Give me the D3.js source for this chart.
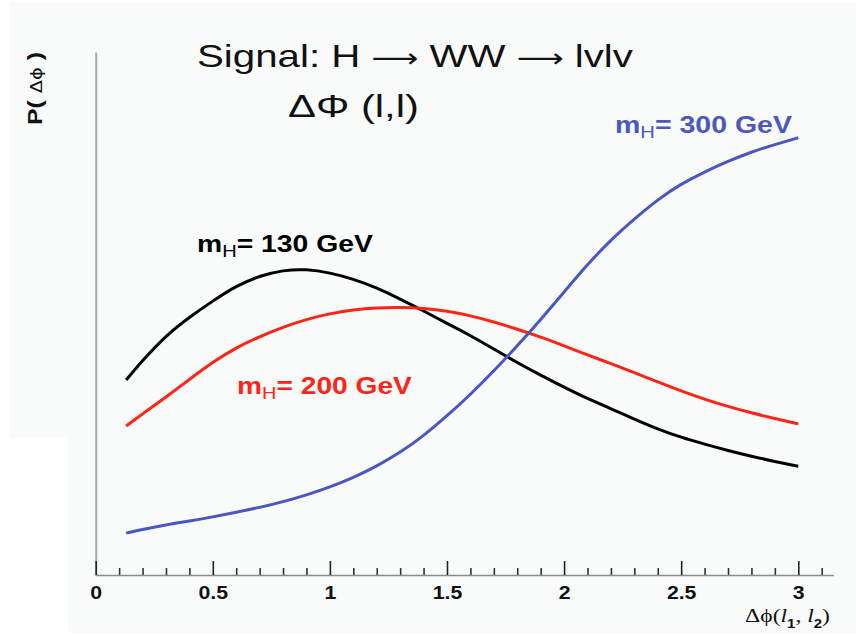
<!DOCTYPE html>
<html>
<head>
<meta charset="utf-8">
<script src="https://cdn.jsdelivr.net/npm/d3@7"></script>
<style>
  html, body { margin: 0; padding: 0; background: #ffffff; }
  svg { display: block; }
</style>
</head>
<body>
<svg id="chart" width="856" height="635"></svg>
<script>
// Δφ between the two leptons (radians)
const dphi = [0.13, 0.2, 0.3, 0.4, 0.5, 0.6, 0.7, 0.8, 0.9, 1.0,
              1.1, 1.2, 1.3, 1.4, 1.5, 1.6, 1.7, 1.8, 1.9, 2.0,
              2.1, 2.2, 2.3, 2.4, 2.5, 2.6, 2.7, 2.8, 2.9, 3.0];

// P(Δφ), arbitrary normalisation, for three Higgs masses
const mh130 = [0.373, 0.410, 0.458, 0.493, 0.524, 0.553, 0.572, 0.583, 0.585, 0.578,
               0.566, 0.549, 0.528, 0.505, 0.481, 0.458, 0.432, 0.406, 0.382, 0.359,
               0.337, 0.318, 0.298, 0.279, 0.263, 0.250, 0.238, 0.227, 0.217, 0.208];
const mh200 = [0.285, 0.308, 0.340, 0.374, 0.407, 0.435, 0.456, 0.474, 0.489, 0.500,
               0.507, 0.511, 0.512, 0.510, 0.505, 0.496, 0.484, 0.470, 0.455, 0.438,
               0.421, 0.404, 0.387, 0.369, 0.352, 0.336, 0.322, 0.310, 0.299, 0.289];
const mh300 = [0.080, 0.087, 0.096, 0.103, 0.111, 0.120, 0.129, 0.140, 0.153, 0.168,
               0.186, 0.208, 0.234, 0.266, 0.304, 0.345, 0.390, 0.438, 0.488, 0.541,
               0.594, 0.641, 0.681, 0.718, 0.748, 0.771, 0.791, 0.809, 0.823, 0.836];

const majorTicks = [0, 0.5, 1, 1.5, 2, 2.5, 3];
const tickLabels = ["0", "0.5", "1", "1.5", "2", "2.5", "3"];
const minorTicks = [0.1, 0.2, 0.3, 0.4, 0.6, 0.7, 0.8, 0.9, 1.1, 1.2, 1.3, 1.4,
                    1.6, 1.7, 1.8, 1.9, 2.1, 2.2, 2.3, 2.4, 2.6, 2.7, 2.8, 2.9, 3.1];

const seriesNames = ["130", "200", "300"];
const seriesColors = ["#000000", "#ff2414", "#4a56c2"];
const labelColors = ["#000000", "#ff2414", "#4c58bd"];

const svg = d3.select("#chart");

// paper background
svg.append("path")
  .attr("d", "M9,3 H856 V633 H68 V437 H9 Z")
  .attr("fill", "#f9fbfb");

const x = d3.scaleLinear().domain([0, 3.15]).range([95.7, 833.4]);
const y = d3.scaleLinear().domain([0, 1]).range([575, 52]);

// y axis: plain line
svg.append("g")
  .attr("transform", `translate(${x(0)},0)`)
  .call(d3.axisLeft(y).tickValues([]).tickSizeOuter(0))
  .call(g => g.select(".domain").attr("stroke", "#a8a8a8").attr("stroke-width", 2));

// x axis: minor ticks
svg.append("g")
  .attr("transform", `translate(0,${y(0)})`)
  .call(d3.axisBottom(x).tickValues(minorTicks).tickSizeInner(-7).tickSizeOuter(0).tickFormat(""))
  .call(g => g.select(".domain").remove())
  .call(g => g.selectAll(".tick line").attr("stroke", "#333").attr("stroke-width", 1.6));

// x axis: major ticks with labels
svg.append("g")
  .attr("transform", `translate(0,${y(0)})`)
  .call(d3.axisBottom(x).tickValues(majorTicks).tickSizeInner(-14).tickSizeOuter(0)
        .tickPadding(11).tickFormat((d, i) => tickLabels[i]))
  .call(g => g.select(".domain").attr("stroke", "#8a8a8a").attr("stroke-width", 1.6))
  .call(g => g.selectAll(".tick line").attr("stroke", "#222").attr("stroke-width", 1.6))
  .call(g => g.selectAll(".tick text")
        .attr("fill", "#111")
        .attr("font-family", "'Liberation Sans', Arial, sans-serif")
        .attr("font-weight", "bold")
        .attr("font-size", 19)
        .attr("transform", "scale(1.12,1)"));

// curves
const series = [mh130, mh200, mh300];
const line = d3.line()
  .x((d, i) => x(dphi[i]))
  .y(d => y(d))
  .curve(d3.curveBasis);

svg.append("g").selectAll("path")
  .data(series)
  .join("path")
  .attr("d", d => line(d))
  .attr("fill", "none")
  .attr("stroke", (d, i) => seriesColors[i])
  .attr("stroke-width", 3)
  .attr("stroke-linejoin", "round");

// stretch a text element horizontally so that it spans the given width
function fit(sel, px, py, width, sy = 1) {
  const w = sel.node().getBBox().width;
  sel.attr("x", 0).attr("y", 0)
     .attr("transform", `translate(${px},${py}) scale(${width / w},${sy})`);
}

const sans = "'Liberation Sans', Arial, sans-serif";

// title
const t1 = svg.append("text")
  .attr("font-family", sans).attr("font-size", 32).attr("fill", "#111");
t1.append("tspan").text("Signal: H ");
t1.append("tspan").attr("font-family", "'DejaVu Sans', sans-serif").attr("font-size", 26).text("\u27F6");
t1.append("tspan").text(" WW ");
t1.append("tspan").attr("font-family", "'DejaVu Sans', sans-serif").attr("font-size", 26).text("\u27F6");
t1.append("tspan").text(" lvlv");
fit(t1, 197, 67, 436);

const t2 = svg.append("text")
  .attr("font-family", sans).attr("font-size", 32).attr("fill", "#111")
  .text("\u0394\u03A6 (l,l)");
fit(t2, 288, 117, 131);

// series labels
const labelPos = [[197, 252, 176], [237, 394, 175], [615, 133, 177]];
seriesNames.forEach((name, i) => {
  const t = svg.append("text")
    .attr("font-family", sans).attr("font-size", 24).attr("font-weight", "bold")
    .attr("fill", labelColors[i]);
  t.append("tspan").text("m");
  t.append("tspan").attr("font-size", 17).attr("font-weight", "normal").attr("dy", 5).text("H");
  t.append("tspan").attr("dy", -5).text(`= ${name} GeV`);
  fit(t, labelPos[i][0], labelPos[i][1], labelPos[i][2]);
});

// y axis title
const yt = svg.append("g").attr("transform", "translate(42,125) rotate(-90)")
  .append("text")
  .attr("font-family", sans).attr("font-size", 18).attr("font-weight", "bold").attr("fill", "#111");
yt.append("tspan").text("P( ");
yt.append("tspan").attr("font-weight", "normal").attr("font-size", 14)
  .attr("font-family", "'DejaVu Sans', sans-serif").text("\u0394\u03D5");
yt.append("tspan").text(" )");
fit(yt, 0, 0, 73, 1.12);

// x axis title
const serif = "'Liberation Serif', 'Times New Roman', serif";
const xt = svg.append("text")
  .attr("font-family", serif).attr("font-size", 19).attr("fill", "#111");
xt.append("tspan").text("\u0394\u03D5(");
xt.append("tspan").attr("font-style", "italic").text("l");
xt.append("tspan").attr("font-family", sans).attr("font-weight", "bold").attr("font-size", 12).attr("dy", 6).text("1");
xt.append("tspan").attr("dy", -6).text(", ");
xt.append("tspan").attr("font-style", "italic").text("l");
xt.append("tspan").attr("font-family", sans).attr("font-weight", "bold").attr("font-size", 12).attr("dy", 6).text("2");
xt.append("tspan").attr("dy", -6).text(")");
fit(xt, 745, 622, 85);
</script>
</body>
</html>
